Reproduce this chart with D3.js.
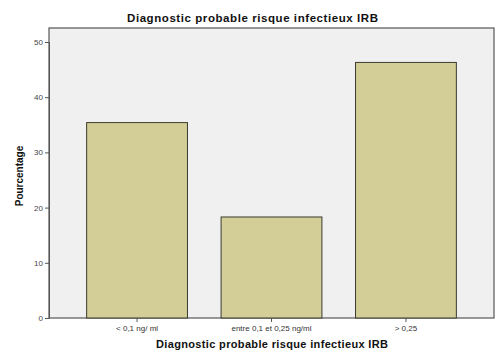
<!DOCTYPE html>
<html><head><meta charset="utf-8">
<script src="https://cdn.jsdelivr.net/npm/d3@7"></script>
<style>body{margin:0;background:#fff}</style>
</head><body>
<script>
const categories = ["< 0,1 ng/ ml", "entre 0,1 et 0,25 ng/ml", "> 0,25"];
const values = [35.4, 18.3, 46.3];
const yTicks = [0, 10, 20, 30, 40, 50];
const title = "Diagnostic probable risque infectieux IRB";
const xTitle = "Diagnostic probable risque infectieux IRB";
const yTitle = "Pourcentage";

const W = 500, H = 360;
const L = 49, R = 494, T = 28, B = 318;
const svg = d3.select("body").append("svg").attr("width", W).attr("height", H);

svg.append("rect").attr("x", L).attr("y", T).attr("width", R - L).attr("height", B - T)
  .attr("fill", "#f0f0f0").attr("stroke", "#555").attr("stroke-width", 1.2);

const x = d3.scaleBand().domain(categories).range([L, R]).paddingInner(0.25).paddingOuter(0.28);
const y = d3.scaleLinear().domain([0, 50]).range([B, B - 5 * 55.2]);

svg.selectAll("rect.bar").data(values).enter().append("rect").attr("class", "bar")
  .attr("x", (d, i) => x(categories[i]))
  .attr("y", d => y(d))
  .attr("width", x.bandwidth())
  .attr("height", d => B - y(d))
  .attr("fill", "#d3ce97").attr("stroke", "#3a3a30").attr("stroke-width", 1);

const yAxis = svg.append("g").attr("transform", `translate(${L},0)`)
  .call(d3.axisLeft(y).tickValues(yTicks).tickSize(4).tickPadding(2).tickFormat(d3.format("d")));
yAxis.select(".domain").attr("stroke", "#555");
yAxis.selectAll(".tick line").attr("stroke", "#555");
yAxis.selectAll("text").attr("font-family", "Liberation Sans, Arial, sans-serif").attr("font-size", 8).attr("fill", "#444");

const xAxis = svg.append("g").attr("transform", `translate(0,${B})`)
  .call(d3.axisBottom(x).tickSize(4).tickPadding(3));
xAxis.select(".domain").remove();
xAxis.selectAll(".tick line").attr("stroke", "#555");
xAxis.selectAll("text").attr("font-family", "Liberation Sans, Arial, sans-serif").attr("font-size", 8).attr("fill", "#333");

svg.append("text").attr("x", 252.5).attr("y", 22).attr("text-anchor", "middle")
  .attr("font-family", "Liberation Sans, Arial, sans-serif").attr("font-weight", "bold").attr("font-size", 11.5)
  .attr("textLength", 251).attr("lengthAdjust", "spacing")
  .attr("fill", "#111").text(title);
svg.append("text").attr("x", 272).attr("y", 348).attr("text-anchor", "middle")
  .attr("font-family", "Liberation Sans, Arial, sans-serif").attr("font-weight", "bold").attr("font-size", 11)
  .attr("textLength", 232).attr("lengthAdjust", "spacing")
  .attr("fill", "#111").text(xTitle);
svg.append("text").attr("transform", `translate(23,176) rotate(-90)`).attr("text-anchor", "middle")
  .attr("font-family", "Liberation Sans, Arial, sans-serif").attr("font-weight", "bold").attr("font-size", 10)
  .attr("fill", "#111").text(yTitle);
</script>
</body></html>
